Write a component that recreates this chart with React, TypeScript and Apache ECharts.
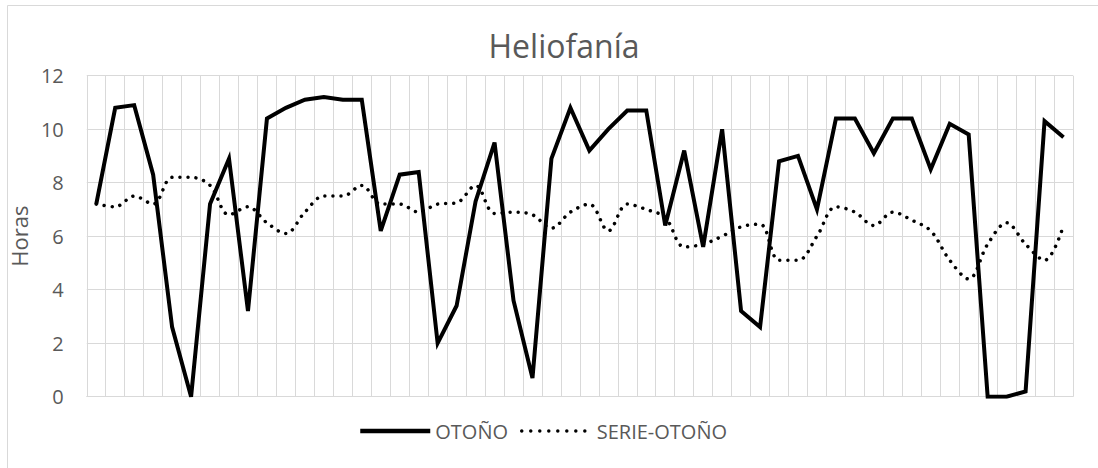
import React, { useEffect, useRef } from "react";
import * as echarts from "echarts";

const categories: string[] = Array.from({ length: 52 }, (_, i) => String(i + 1));
const otono: number[] = [7.2, 10.8, 10.9, 8.3, 2.6, 0, 7.2, 8.9, 3.2, 10.4, 10.8, 11.1, 11.2, 11.1, 11.1, 6.2, 8.3, 8.4, 2.0, 3.4, 7.3, 9.5, 3.6, 0.7, 8.9, 10.8, 9.2, 10.0, 10.7, 10.7, 6.4, 9.2, 5.6, 10.0, 3.2, 2.6, 8.8, 9.0, 7.0, 10.4, 10.4, 9.1, 10.4, 10.4, 8.5, 10.2, 9.8, 0, 0, 0.2, 10.3, 9.7];
const serieOtono: number[] = [7.2, 7.1, 7.5, 7.2, 8.2, 8.2, 7.9, 6.8, 7.1, 6.5, 6.1, 6.9, 7.5, 7.5, 7.9, 7.2, 7.2, 6.9, 7.2, 7.25, 7.9, 6.85, 6.9, 6.8, 6.3, 6.9, 7.2, 6.2, 7.2, 7.0, 6.7, 5.6, 5.7, 6.0, 6.35, 6.45, 5.1, 5.1, 6.0, 7.1, 6.9, 6.4, 6.9, 6.6, 6.2, 5.1, 4.4, 5.7, 6.5, 5.7, 5.1, 6.4];
const yTicks = { min: 0, max: 12, interval: 2 };
const titleText = "Heliofanía";
const yName = "Horas";
const seriesNames = ["OTOÑO", "SERIE-OTOÑO"];

const FONT = "'Open Sans', sans-serif";
const GRAY = "#595959";
const GRID = "#d9d9d9";

export default function App() {
  const ref = useRef<HTMLDivElement>(null);
  useEffect(() => {
    if (!ref.current) return;
    const chart = echarts.init(ref.current, undefined, { renderer: "svg" });
    chart.setOption({
      animation: false,
      backgroundColor: "#ffffff",
      textStyle: { fontFamily: FONT },
      graphic: [
        { type: "line", shape: { x1: 7.5, y1: 5.5, x2: 1098, y2: 5.5 }, style: { stroke: GRID, lineWidth: 1 } },
        { type: "line", shape: { x1: 7.5, y1: 5.5, x2: 7.5, y2: 468 }, style: { stroke: GRID, lineWidth: 1 } },
        {
          type: "text",
          x: 564,
          y: 45.5,
          style: { text: titleText, fontFamily: FONT, fontSize: 32, fill: GRAY, textAlign: "center", textVerticalAlign: "middle" },
        },
      ],
      legend: {
        left: 353,
        top: 416,
        itemWidth: 70,
        itemHeight: 14,
        itemGap: 12,
        itemStyle: { opacity: 0 },
        textStyle: { fontFamily: FONT, fontSize: 20, color: GRAY },
        data: [
          { name: seriesNames[0], lineStyle: { color: "#000000", width: 4.5, type: "solid" } },
          { name: seriesNames[1], lineStyle: { color: "#000000", width: 3.5, type: [0.01, 9], cap: "round" } },
        ],
      },
      grid: { left: 82.7, right: 25, top: 75.7, bottom: 71.3 },
      xAxis: {
        type: "category",
        data: categories,
        boundaryGap: true,
        axisLabel: { show: false },
        axisTick: { show: false },
        axisLine: { show: true, lineStyle: { color: GRID, width: 1 } },
        splitLine: { show: true, lineStyle: { color: GRID, width: 1 } },
      },
      yAxis: {
        type: "value",
        min: yTicks.min,
        max: yTicks.max,
        interval: yTicks.interval,
        name: yName,
        nameLocation: "middle",
        nameGap: 45,
        nameTextStyle: { fontFamily: FONT, fontSize: 22, color: GRAY },
        axisLabel: { fontFamily: FONT, fontSize: 20, color: GRAY, margin: 23 },
        axisLine: { show: false },
        axisTick: { show: false },
        splitLine: { show: true, lineStyle: { color: GRID, width: 1 } },
      },
      series: [
        {
          name: seriesNames[0],
          type: "line",
          data: otono,
          symbol: "none",
          lineStyle: { color: "#000000", width: 4, join: "miter" },
          itemStyle: { color: "#000000" },
        },
        {
          name: seriesNames[1],
          type: "line",
          data: serieOtono,
          symbol: "none",
          smooth: 0.35,
          lineStyle: { color: "#000000", width: 3.5, type: [0.01, 8], cap: "round" },
          itemStyle: { color: "#000000" },
        },
      ],
    });
    return () => chart.dispose();
  }, []);
  return <div ref={ref} style={{ position: "fixed", left: 0, top: 0, width: 1098, height: 468 }} />;
}
